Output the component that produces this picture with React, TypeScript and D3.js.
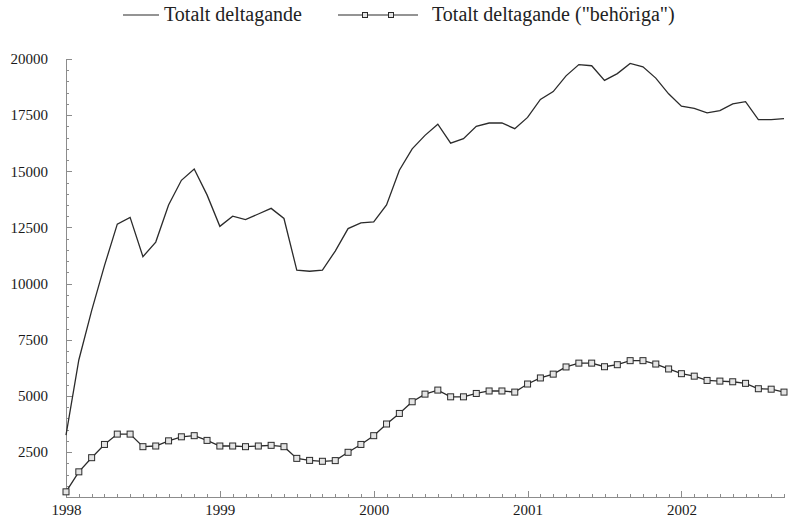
import { useEffect, useRef } from "react";
import { select, scaleLinear, line, axisLeft, axisBottom, range } from "d3";

// monthly values, Jan 1998 - Sep 2002
const totalt = [
  3250, 6600, 8800, 10800, 12650, 12950, 11200, 11850, 13500, 14600, 15100, 13950,
  12550, 13000, 12850, 13100, 13350, 12900, 10600, 10550, 10600, 11450, 12450, 12700,
  12750, 13500, 15050, 16000, 16600, 17100, 16250, 16450, 17000, 17150, 17150, 16900,
  17400, 18200, 18550, 19250, 19750, 19700, 19050, 19350, 19800, 19650, 19150, 18450,
  17900, 17800, 17600, 17700, 18000, 18100, 17300, 17300, 17350,
];

const behoriga = [
  730, 1620, 2250, 2840, 3300, 3300, 2740, 2770, 3000, 3180, 3230, 3020,
  2770, 2770, 2740, 2770, 2800, 2740, 2220, 2130, 2090, 2120, 2490, 2840,
  3230, 3750, 4220, 4740, 5080, 5260, 4960, 4960, 5110, 5220, 5220, 5170,
  5530, 5800, 5970, 6290, 6460, 6460, 6300, 6390, 6570, 6570, 6420, 6200,
  5990, 5880, 5690, 5660, 5630, 5560, 5320, 5300, 5170,
];

const yTickLabels = [2500, 5000, 7500, 10000, 12500, 15000, 17500, 20000];
const yearLabels = [1998, 1999, 2000, 2001, 2002];
const seriesNames = ["Totalt deltagande", 'Totalt deltagande ("behöriga")'];

const FONT = "'Liberation Serif', 'Times New Roman', serif";
const LINE = "#2b2b2b";
const AXIS = "#8c8c8c";

export default function App() {
  const ref = useRef<SVGSVGElement>(null);
  const width = 792;
  const height = 519;

  useEffect(() => {
    const svg = select(ref.current);
    svg.selectAll("*").remove();

    const x = scaleLinear().domain([0, totalt.length - 1]).range([66, 784]);
    const y = scaleLinear().domain([500, 20000]).range([497, 59]);

    // y axis: minor ticks every 500, labelled every 2500
    const yMinor = svg.append("g").attr("transform", `translate(${x(0)},0)`)
      .call(axisLeft(y).tickValues(range(500, 20001, 500)).tickSize(-3).tickSizeOuter(0).tickFormat(() => ""));
    const yMajor = svg.append("g").attr("transform", `translate(${x(0)},0)`)
      .call(axisLeft(y).tickValues(yTickLabels).tickSize(-6).tickSizeOuter(0).tickPadding(18).tickFormat((d) => String(d)));

    // x axis: one tick per month, years labelled
    const months = range(totalt.length);
    const xMinor = svg.append("g").attr("transform", `translate(0,${y(500)})`)
      .call(axisBottom(x).tickValues(months).tickSize(-3).tickSizeOuter(0).tickFormat(() => ""));
    const xMajor = svg.append("g").attr("transform", `translate(0,${y(500)})`)
      .call(axisBottom(x).tickValues(yearLabels.map((_, i) => i * 12)).tickSize(-6).tickSizeOuter(0).tickPadding(7)
        .tickFormat((d) => String(yearLabels[Number(d) / 12])));

    [yMinor, yMajor, xMinor, xMajor].forEach((g) => {
      g.attr("font-family", FONT).attr("font-size", 15);
      g.selectAll("path, line").attr("stroke", AXIS).attr("shape-rendering", "crispEdges");
      g.selectAll("text").attr("fill", "#1a1a1a");
    });

    const path = line<number>().x((_, i) => x(i)).y((d) => y(d));

    svg.append("path").datum(totalt)
      .attr("d", path).attr("fill", "none").attr("stroke", LINE).attr("stroke-width", 1.3);

    svg.append("path").datum(behoriga)
      .attr("d", path).attr("fill", "none").attr("stroke", LINE).attr("stroke-width", 1.3);

    svg.append("g").selectAll("rect").data(behoriga).enter().append("rect")
      .attr("x", (_, i) => x(i) - 3)
      .attr("y", (d) => y(d) - 3)
      .attr("width", 6).attr("height", 6)
      .attr("fill", "#e4e4e4").attr("stroke", LINE).attr("stroke-width", 1);

    // legend
    const lg = svg.append("g").attr("font-family", FONT).attr("font-size", 20).attr("fill", "#222");
    lg.append("line").attr("x1", 123).attr("x2", 159).attr("y1", 15).attr("y2", 15)
      .attr("stroke", LINE).attr("stroke-width", 1.2);
    lg.append("text").attr("x", 164).attr("y", 21).text(seriesNames[0]);

    lg.append("line").attr("x1", 338).attr("x2", 418).attr("y1", 15).attr("y2", 15)
      .attr("stroke", LINE).attr("stroke-width", 1.2);
    [365, 391].forEach((mx) => {
      lg.append("rect").attr("x", mx - 2.5).attr("y", 12.5).attr("width", 5).attr("height", 5)
        .attr("fill", "#e4e4e4").attr("stroke", LINE).attr("stroke-width", 1);
    });
    lg.append("text").attr("x", 432).attr("y", 21).text(seriesNames[1]);
  }, []);

  return (
    <svg
      ref={ref}
      width={width}
      height={height}
      style={{ position: "absolute", left: 0, top: 0, background: "#fff" }}
    />
  );
}
